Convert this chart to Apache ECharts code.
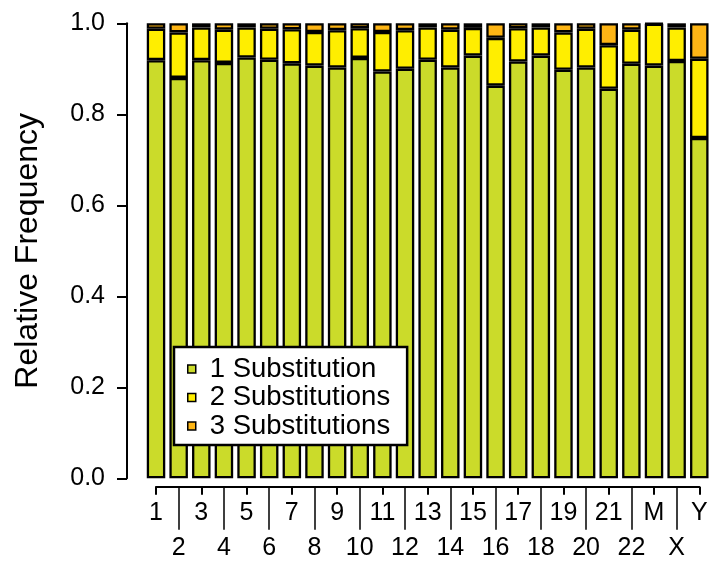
<!DOCTYPE html>
<html>
<head>
<meta charset="utf-8">
<script src="https://cdn.jsdelivr.net/npm/echarts@6/dist/echarts.min.js"></script>
<style>
html,body{margin:0;padding:0;background:#fff;}
#chart{width:712px;height:563px;}
</style>
</head>
<body>
<div id="chart"></div>
<script>
var categories = ['1','2','3','4','5','6','7','8','9','10','11','12','13','14','15','16','17','18','19','20','21','22','M','X','Y'];
var oneSub   = [0.919,0.880,0.919,0.913,0.925,0.920,0.912,0.907,0.903,0.924,0.894,0.900,0.920,0.903,0.929,0.863,0.916,0.929,0.898,0.903,0.856,0.911,0.907,0.917,0.748];
var twoSub   = [0.069,0.100,0.072,0.073,0.066,0.068,0.075,0.074,0.082,0.065,0.087,0.085,0.071,0.083,0.061,0.105,0.073,0.062,0.082,0.085,0.096,0.075,0.092,0.074,0.174];
var threeSub = [0.012,0.020,0.009,0.014,0.009,0.012,0.013,0.019,0.015,0.011,0.019,0.015,0.009,0.014,0.010,0.032,0.011,0.009,0.020,0.012,0.048,0.014,0.001,0.009,0.078];
var yTicks = [0, 0.2, 0.4, 0.6, 0.8, 1.0];

var FONT = "'Liberation Sans', Arial, Helvetica, sans-serif";
var chart = echarts.init(document.getElementById('chart'), null, {renderer:'canvas'});

function barSeries(name, data, color) {
  return {
    name: name, type: 'bar', stack: 'total', data: data,
    xAxisIndex: 0, yAxisIndex: 0,
    barWidth: 18.5,
    itemStyle: {color: color, borderColor: '#000', borderWidth: 2.3},
    emphasis: {disabled: true},
    animation: false
  };
}

chart.setOption({
  animation: false,
  textStyle: {fontFamily: FONT},
  grid: [
    {left: 144.7, right: 1.4, top: 23.3, bottom: 84.7},
    {left: 156, right: 12.7, top: 485.7, height: 1}
  ],
  legend: {
    orient: 'vertical', left: 174, top: 347,
    backgroundColor: '#fff', borderColor: '#000', borderWidth: 2.5, borderRadius: 0,
    padding: [8, 17, 5, 13],
    itemGap: 0.5, itemWidth: 8, itemHeight: 8, icon: 'rect',
    itemStyle: {borderWidth: 1.5, borderColor: '#000'},
    textStyle: {fontSize: 27.5, color: '#000', fontFamily: FONT, padding: [0, 0, 0, 9]},
    data: ['1 Substitution', '2 Substitutions', '3 Substitutions']
  },
  xAxis: [
    {type: 'category', gridIndex: 0, data: categories, show: false},
    {type: 'category', gridIndex: 1, data: categories, position: 'bottom', boundaryGap: false,
     axisLine: {show: true, lineStyle: {color: '#000', width: 2}},
     axisTick: {show: true, length: 8, lineStyle: {color: '#000', width: 2},
                interval: function (i) { return i % 2 === 0; }},
     axisLabel: {show: true, margin: 14, fontSize: 25, color: '#000', fontFamily: FONT,
                 interval: function (i) { return i % 2 === 0; }},
     splitLine: {show: false}},
    {type: 'category', gridIndex: 1, data: categories, position: 'bottom', boundaryGap: false,
     axisLine: {show: false},
     axisTick: {show: true, length: 43, lineStyle: {color: '#000', width: 1.5},
                interval: function (i) { return i % 2 === 1; }},
     axisLabel: {show: true, margin: 49, fontSize: 25, color: '#000', fontFamily: FONT,
                 interval: function (i) { return i % 2 === 1; }},
     splitLine: {show: false}}
  ],
  yAxis: [
    {type: 'value', gridIndex: 0, min: yTicks[0], max: yTicks[yTicks.length - 1], interval: 0.2,
     offset: 17.7,
     name: 'Relative Frequency', nameLocation: 'middle', nameGap: 83,
     nameTextStyle: {fontSize: 32, color: '#000', fontFamily: FONT},
     axisLine: {show: true, lineStyle: {color: '#000', width: 2}},
     axisTick: {show: true, length: 10, lineStyle: {color: '#000', width: 2}},
     axisLabel: {margin: 22, fontSize: 25, color: '#000', fontFamily: FONT,
                 formatter: function (v) { return v.toFixed(1); }},
     splitLine: {show: false}},
    {type: 'value', gridIndex: 1, show: false}
  ],
  series: [
    barSeries('1 Substitution', oneSub, '#CBDB2A'),
    barSeries('2 Substitutions', twoSub, '#FFEE00'),
    barSeries('3 Substitutions', threeSub, '#FDB515')
  ]
});
</script>
</body>
</html>
